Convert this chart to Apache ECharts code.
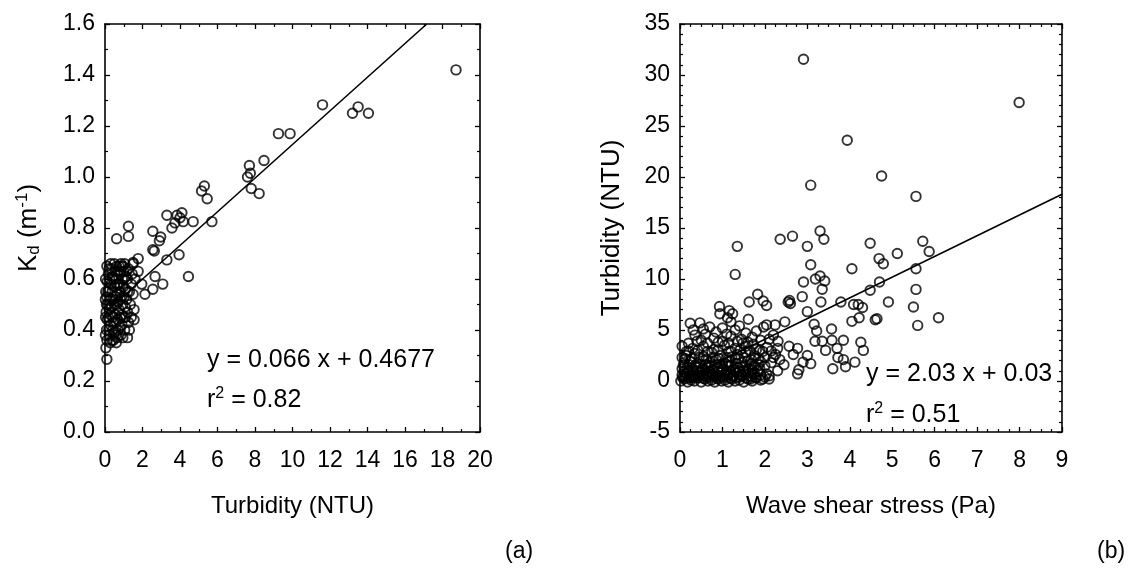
<!DOCTYPE html>
<html>
<head>
<meta charset="utf-8">
<title>Kd / turbidity / wave shear stress</title>
<script src="https://cdn.jsdelivr.net/npm/echarts@6/dist/echarts.min.js"></script>
<style>
  html, body { margin: 0; padding: 0; background: #fff; }
  #chart { width: 1138px; height: 577px; }
</style>
</head>
<body>
<div id="chart"></div>
<script>
// panel (a): turbidity (NTU) vs Kd (m-1)
const kdPoints = [
  [18.72, 1.42], [11.6, 1.283], [13.2, 1.25], [13.5, 1.275], [14.05, 1.25],
  [9.25, 1.17], [9.87, 1.17], [8.48, 1.065], [7.7, 1.045], [7.6, 1.0],
  [7.75, 1.015], [7.8, 0.955], [8.22, 0.935], [5.15, 0.945], [5.3, 0.965],
  [5.45, 0.915], [5.7, 0.825], [4.7, 0.825], [4.1, 0.86], [4.0, 0.84],
  [4.17, 0.825], [3.73, 0.82], [3.57, 0.8], [3.3, 0.85], [3.84, 0.85],
  [2.55, 0.787], [2.97, 0.765], [2.9, 0.75], [2.55, 0.715], [2.63, 0.71],
  [3.3, 0.675], [3.95, 0.695], [4.45, 0.61], [2.67, 0.61], [3.08, 0.58],
  [2.55, 0.56], [2.13, 0.54], [1.96, 0.58], [1.77, 0.63], [1.77, 0.68],
  [1.5, 0.665], [1.5, 0.54], [1.55, 0.48], [1.55, 0.44], [1.25, 0.807],
  [1.25, 0.767], [0.62, 0.758], [0.1, 0.285],
  // dense cluster near the origin
  [0.05, 0.33], [0.1, 0.36], [0.08, 0.4], [0.12, 0.44], [0.06, 0.47], [0.15, 0.5], [0.1, 0.53],
  [0.2, 0.56], [0.12, 0.59], [0.18, 0.62], [0.25, 0.38], [0.3, 0.42], [0.28, 0.46], [0.35, 0.49],
  [0.3, 0.52], [0.38, 0.55], [0.32, 0.58], [0.4, 0.61], [0.35, 0.64], [0.28, 0.35], [0.45, 0.36],
  [0.5, 0.39], [0.48, 0.43], [0.55, 0.46], [0.5, 0.5], [0.58, 0.53], [0.52, 0.57], [0.6, 0.6],
  [0.55, 0.63], [0.62, 0.65], [0.65, 0.37], [0.7, 0.4], [0.68, 0.44], [0.75, 0.48], [0.7, 0.51],
  [0.78, 0.55], [0.72, 0.58], [0.8, 0.62], [0.75, 0.65], [0.85, 0.66], [0.85, 0.38], [0.9, 0.42],
  [0.88, 0.46], [0.95, 0.5], [0.9, 0.53], [0.98, 0.57], [0.92, 0.6], [1.0, 0.63], [0.95, 0.65],
  [1.05, 0.66], [1.05, 0.4], [1.1, 0.45], [1.08, 0.49], [1.15, 0.52], [1.1, 0.56], [1.2, 0.6],
  [1.15, 0.63], [1.25, 0.64], [1.2, 0.47], [1.3, 0.55], [0.2, 0.4], [0.22, 0.48], [0.42, 0.45],
  [0.62, 0.5], [0.82, 0.52], [0.15, 0.55], [0.45, 0.6], [0.65, 0.58], [0.08, 0.5], [0.03, 0.45],
  [1.2, 0.37], [0.6, 0.35], [1.4, 0.58], [1.45, 0.62], [1.5, 0.66],
  [0.02, 0.38], [0.04, 0.55], [0.03, 0.6], [0.22, 0.64], [0.25, 0.6], [0.42, 0.52], [0.4, 0.4],
  [0.6, 0.43], [0.63, 0.54], [0.82, 0.45], [0.8, 0.58], [0.85, 0.63], [1.0, 0.45], [1.02, 0.53],
  [1.0, 0.6], [1.2, 0.55], [1.25, 0.43], [1.35, 0.5], [0.18, 0.45], [0.38, 0.36], [0.58, 0.38],
  [0.78, 0.41], [0.95, 0.37], [1.12, 0.61], [0.9, 0.65], [0.7, 0.63], [0.5, 0.66], [0.3, 0.66],
  [0.1, 0.65], [0.02, 0.52], [1.4, 0.45], [1.6, 0.6], [1.3, 0.4]
]
const kdFit = [[0, 0.4677], [17.16, 1.6]]

// panel (b): wave shear stress (Pa) vs turbidity (NTU)
const shearPoints = [
  [2.91, 31.55], [7.99, 27.3], [3.94, 23.6], [4.75, 20.1], [3.08, 19.2], [5.56, 18.1],
  [3.3, 14.7], [3.39, 13.9], [2.65, 14.2], [2.36, 13.9], [1.35, 13.2], [3.0, 13.2],
  [4.48, 13.5], [5.72, 13.7], [5.87, 12.7], [5.12, 12.5], [4.69, 12.0], [4.79, 11.5],
  [3.08, 11.4], [4.05, 11.0], [5.56, 11.0], [1.3, 10.45], [3.3, 10.3], [3.19, 10.0],
  [3.41, 9.8], [2.91, 9.7], [4.7, 9.7], [5.56, 8.98], [4.48, 8.9], [3.35, 9.0],
  [2.88, 8.27], [1.83, 8.5], [2.58, 7.9], [2.6, 7.6], [2.55, 7.75], [3.32, 7.74], [3.79, 7.74],
  [4.09, 7.5], [4.2, 7.5], [4.3, 7.2], [4.91, 7.74], [5.5, 7.25], [1.96, 7.85],
  [2.04, 7.4], [1.63, 7.74], [0.93, 7.3], [0.94, 6.6], [1.16, 6.9], [1.24, 6.6],
  [1.12, 6.2], [3.0, 6.8], [4.05, 5.85], [4.22, 6.2], [4.6, 6.0], [4.64, 6.1],
  [6.09, 6.2], [5.6, 5.45], [0.24, 5.66], [0.47, 5.7], [0.31, 5.0], [0.55, 5.1],
  [1.61, 6.05], [2.47, 5.8], [2.24, 5.5], [3.16, 5.56], [3.22, 4.9], [3.57, 5.1],
  [1.97, 5.3], [2.04, 5.5], [1.48, 3.7], [1.73, 3.6], [2.31, 3.9], [2.57, 3.4],
  [3.18, 3.9], [3.35, 3.9], [3.58, 4.0], [3.85, 4.0], [4.26, 3.8], [4.32, 3.0],
  [3.43, 3.0], [3.7, 3.2], [3.72, 2.3], [3.85, 2.1], [3.9, 1.4], [4.12, 1.85],
  [3.6, 1.2], [3.08, 1.7], [2.9, 1.85], [3.0, 2.5], [2.77, 0.7], [2.8, 1.1],
  [2.67, 2.6], [2.77, 3.2], [2.2, 2.3], [2.35, 2.1], [2.04, 0.7], [1.88, 1.2],
  [1.66, 0.2], [1.7, 0.7], [2.3, 1.0], [2.1, 0.5], [2.0, 1.5], [2.45, 1.6],
  // dense cluster near the origin
  [0.02, 0.0], [0.1, 0.2], [0.18, -0.1], [0.26, 0.1], [0.34, 0.0], [0.42, 0.3], [0.5, -0.1],
  [0.58, 0.2], [0.66, 0.0], [0.74, 0.1], [0.82, -0.1], [0.9, 0.2], [0.98, 0.0], [1.06, 0.1],
  [1.14, -0.1], [1.22, 0.2], [1.3, 0.0], [1.4, 0.1], [1.5, -0.1], [1.6, 0.2], [1.7, 0.0],
  [1.8, 0.3], [1.9, 0.1], [2.0, 0.4], [2.1, 0.2],
  [0.05, 0.6], [0.15, 0.7], [0.25, 0.5], [0.35, 0.6], [0.45, 0.8], [0.55, 0.5], [0.65, 0.7],
  [0.75, 0.6], [0.85, 0.5], [0.95, 0.8], [1.05, 0.6], [1.15, 0.7], [1.25, 0.5], [1.35, 0.8],
  [1.45, 0.6], [1.55, 0.9], [1.65, 0.5], [1.75, 0.8], [1.9, 0.6],
  [0.05, 1.2], [0.17, 1.3], [0.29, 1.1], [0.41, 1.3], [0.53, 1.2], [0.65, 1.4], [0.77, 1.1],
  [0.89, 1.3], [1.01, 1.2], [1.13, 1.5], [1.25, 1.1], [1.37, 1.3], [1.49, 1.4], [1.61, 1.2],
  [1.75, 1.5],
  [0.1, 1.8], [0.25, 1.9], [0.4, 1.7], [0.55, 2.0], [0.7, 1.8], [0.85, 2.1], [1.0, 1.7],
  [1.15, 1.9], [1.3, 2.2], [1.45, 1.8], [1.6, 2.0], [1.75, 2.3], [1.9, 1.9], [2.15, 1.8],
  [0.15, 2.5], [0.35, 2.7], [0.55, 2.4], [0.75, 2.8], [0.95, 2.5], [1.15, 2.9], [1.35, 2.6],
  [1.55, 2.8], [1.75, 2.5], [1.95, 2.9], [2.25, 2.6],
  [0.3, 3.2], [0.55, 3.4], [0.8, 3.1], [1.05, 3.5], [1.3, 3.2], [1.55, 3.4], [1.8, 3.1],
  [2.05, 3.3], [2.3, 3.2],
  [0.5, 4.0], [0.8, 4.2], [1.0, 3.9], [1.2, 4.4], [1.45, 4.1], [1.7, 4.3], [1.9, 4.0],
  [0.12, 2.2], [0.2, 0.9], [0.6, 1.6], [0.9, 0.9], [1.1, 2.3], [1.4, 0.4], [0.3, 0.35],
  [0.06, 0.35], [0.14, 0.45], [0.22, 0.3], [0.3, 0.5], [0.38, 0.35], [0.46, 0.55], [0.54, 0.3],
  [0.62, 0.45], [0.7, 0.35], [0.78, 0.5], [0.86, 0.3], [0.94, 0.45], [1.02, 0.35], [1.1, 0.5],
  [1.18, 0.3], [1.26, 0.45], [1.34, 0.35], [1.46, 0.5], [1.56, 0.3], [1.68, 0.45], [1.78, 0.35],
  [1.95, 0.2],
  [0.1, 0.95], [0.2, 1.0], [0.3, 0.85], [0.4, 1.0], [0.5, 0.9], [0.6, 1.05], [0.7, 0.9],
  [0.8, 1.0], [1.0, 1.05], [1.1, 0.95], [1.2, 0.9], [1.3, 1.05], [1.4, 0.95], [1.5, 1.0],
  [1.6, 0.85], [1.7, 1.05], [1.85, 0.95],
  [0.08, 1.55], [0.22, 1.6], [0.35, 1.5], [0.48, 1.65], [0.7, 1.5], [0.83, 1.6], [0.96, 1.45],
  [1.08, 1.65], [1.2, 1.55], [1.32, 1.7], [1.56, 1.55], [1.68, 1.7], [1.85, 1.6],
  [0.05, 2.3], [0.28, 2.2], [0.45, 2.3], [0.62, 2.15], [0.78, 2.3], [0.92, 2.2], [1.22, 2.35],
  [1.38, 2.2], [1.52, 2.3], [1.68, 2.1], [1.85, 2.2], [2.0, 2.3],
  [0.2, 2.95], [0.42, 3.0], [0.65, 2.9], [0.9, 3.05], [1.2, 2.9], [1.42, 3.05], [1.65, 2.95],
  [1.88, 3.0], [2.15, 2.95],
  [0.2, 3.7], [0.4, 3.9], [0.65, 3.7], [0.9, 3.8], [1.15, 3.7], [1.35, 3.9], [1.6, 3.8],
  [2.1, 4.1], [0.35, 4.5], [0.6, 4.6], [0.85, 4.8], [1.1, 4.6], [1.3, 5.0], [1.55, 4.7],
  [1.8, 4.9], [2.2, 4.5], [0.7, 5.3], [1.0, 5.2], [1.2, 5.8], [1.4, 5.4], [0.15, 2.9], [0.05, 3.4]
]
const shearFit = [[0, 0.03], [9, 18.3]]

const FONT = 'Liberation Sans, Arial, sans-serif'
const chart = echarts.init(document.getElementById('chart'))

function frameAxis(grid, pos, min, max, interval, minorSplit, showLabel, extra) {
  return Object.assign({
    gridIndex: grid,
    position: pos,
    type: 'value',
    min: min,
    max: max,
    interval: interval,
    axisLine: { show: true, onZero: false, lineStyle: { color: '#000', width: 1.6 } },
    axisTick: { show: true, inside: true, length: 5, lineStyle: { color: '#000', width: 1.3 } },
    minorTick: { show: true, splitNumber: minorSplit, length: 3, lineStyle: { color: '#000', width: 1.2 } },
    splitLine: { show: false },
    axisLabel: {
      show: showLabel, color: '#000', fontSize: 23, fontFamily: FONT,
      margin: pos === 'bottom' ? 17 : 10
    }
  }, extra || {})
}

const xNameStyle = { color: '#000', fontSize: 24, fontFamily: FONT }
const yNameStyle = {
  color: '#000', fontSize: 26, fontFamily: FONT,
  rich: {
    n: { fontSize: 26, fontFamily: FONT, color: '#000' },
    sub: { fontSize: 17, fontFamily: FONT, color: '#000', verticalAlign: 'bottom', padding: [12, 0, 0, 0] },
    sup: { fontSize: 17, fontFamily: FONT, color: '#000', verticalAlign: 'top', padding: [0, 0, 12, 0] }
  }
}

const circle = {
  type: 'scatter',
  symbol: 'circle',
  symbolSize: 9.5,
  itemStyle: { color: 'rgba(0,0,0,0)', borderColor: '#000', borderWidth: 1.9 },
  silent: true
}
const fitLine = {
  type: 'line',
  symbol: 'none',
  silent: true,
  lineStyle: { color: '#000', width: 1.6 }
}

const eqRich = {
  n: { fontSize: 25, fontFamily: FONT, color: '#000' },
  s: { fontSize: 16, fontFamily: FONT, color: '#000', verticalAlign: 'top', padding: [0, 0, 12, 0] }
}

const option = {
  animation: false,
  backgroundColor: '#fff',
  grid: [
    { left: 105, top: 24, width: 375, height: 408 },
    { left: 680, top: 24, width: 382, height: 408 }
  ],
  xAxis: [
    frameAxis(0, 'bottom', 0, 20, 2, 2, true, {
      name: 'Turbidity (NTU)', nameLocation: 'middle', nameGap: 62, nameTextStyle: xNameStyle
    }),
    frameAxis(0, 'top', 0, 20, 2, 2, false),
    frameAxis(1, 'bottom', 0, 9, 1, 4, true, {
      name: 'Wave shear stress (Pa)', nameLocation: 'middle', nameGap: 62, nameTextStyle: xNameStyle
    }),
    frameAxis(1, 'top', 0, 9, 1, 4, false)
  ],
  yAxis: [
    frameAxis(0, 'left', 0, 1.6, 0.2, 2, true, {
      name: '{n|K}{sub|d}{n| (m}{sup|-1}{n|)}', nameLocation: 'middle', nameGap: 62,
      nameTextStyle: yNameStyle,
      axisLabel: { color: '#000', fontSize: 23, fontFamily: FONT, margin: 10, formatter: v => v.toFixed(1) }
    }),
    frameAxis(0, 'right', 0, 1.6, 0.2, 2, false),
    frameAxis(1, 'left', -5, 35, 5, 5, true, {
      name: 'Turbidity (NTU)', nameLocation: 'middle', nameGap: 55, nameTextStyle: yNameStyle
    }),
    frameAxis(1, 'right', -5, 35, 5, 5, false)
  ],
  series: [
    Object.assign({}, fitLine, { xAxisIndex: 0, yAxisIndex: 0, data: kdFit }),
    Object.assign({}, circle, { xAxisIndex: 0, yAxisIndex: 0, data: kdPoints }),
    Object.assign({}, fitLine, { xAxisIndex: 2, yAxisIndex: 2, data: shearFit }),
    Object.assign({}, circle, { xAxisIndex: 2, yAxisIndex: 2, data: shearPoints })
  ],
  graphic: [
    { type: 'text', left: 207, top: 348, style: { text: '{n|y = 0.066 x + 0.4677}', rich: eqRich } },
    { type: 'text', left: 207, top: 386, style: { text: '{n|r}{s|2}{n| = 0.82}', rich: eqRich } },
    { type: 'text', left: 866, top: 362, style: { text: '{n|y = 2.03 x + 0.03}', rich: eqRich } },
    { type: 'text', left: 866, top: 401, style: { text: '{n|r}{s|2}{n| = 0.51}', rich: eqRich } },
    { type: 'text', left: 505, top: 540, style: { text: '(a)', fontSize: 23, fontFamily: FONT, fill: '#000' } },
    { type: 'text', left: 1097, top: 540, style: { text: '(b)', fontSize: 23, fontFamily: FONT, fill: '#000' } }
  ]
}
chart.setOption(option)
</script>
</body>
</html>
